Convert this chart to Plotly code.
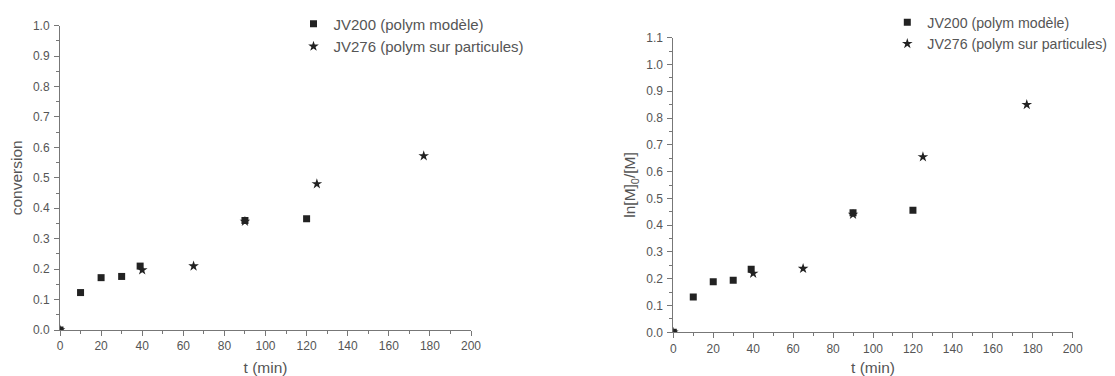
import plotly.graph_objects as go

# data
t_jv200 = [0, 10, 20, 30, 39, 90, 120]
conv_jv200 = [0.0, 0.123, 0.172, 0.176, 0.21, 0.36, 0.366]
ln_jv200 = [0.0, 0.132, 0.189, 0.194, 0.235, 0.446, 0.456]

t_jv276 = [0, 40, 65, 90, 125, 177]
conv_jv276 = [0.0, 0.197, 0.21, 0.357, 0.48, 0.572]
ln_jv276 = [0.0, 0.22, 0.238, 0.44, 0.655, 0.85]

name200 = "JV200 (polym modèle)"
name276 = "JV276 (polym sur particules)"

FONT = "Arial, Liberation Sans, sans-serif"
TXT = "#555555"
AX = "#777777"
MK = "#222222"

fig = go.Figure()
# stars drawn first so the squares sit on top
fig.add_trace(go.Scatter(x=t_jv276, y=conv_jv276, mode="markers", name=name276,
                         marker=dict(symbol="star", size=8, color=MK),
                         xaxis="x", yaxis="y", legend="legend", legendrank=2))
fig.add_trace(go.Scatter(x=t_jv200, y=conv_jv200, mode="markers", name=name200,
                         marker=dict(symbol="square", size=7, color=MK),
                         xaxis="x", yaxis="y", legend="legend", legendrank=1))
fig.add_trace(go.Scatter(x=t_jv276, y=ln_jv276, mode="markers", name=name276,
                         marker=dict(symbol="star", size=8, color=MK),
                         xaxis="x2", yaxis="y2", legend="legend2", legendrank=2))
fig.add_trace(go.Scatter(x=t_jv200, y=ln_jv200, mode="markers", name=name200,
                         marker=dict(symbol="square", size=7, color=MK),
                         xaxis="x2", yaxis="y2", legend="legend2", legendrank=1))

# the page body has an 8px margin, so the figure is 8px smaller on each axis
OFF = 8
W, H = 1115 - OFF, 376 - OFF

def xd(a, b):
    return [(a - OFF) / W, (b - OFF) / W]

def yd(bottom, top):
    return [(H - (bottom - OFF)) / H, (H - (top - OFF)) / H]

common_ax = dict(showline=True, linecolor=AX, linewidth=1, ticks="outside",
                 ticklen=5, tickcolor=AX, showgrid=False, zeroline=False,
                 tickfont=dict(family=FONT, size=12, color=TXT),
                 mirror=False, automargin=False)
TF = dict(family=FONT, size=15.5, color=TXT)

fig.update_layout(
    width=W, height=H,
    margin=dict(l=0, r=0, t=0, b=0, autoexpand=False),
    paper_bgcolor="white", plot_bgcolor="white",
    font=dict(family=FONT, color=TXT),
    xaxis=dict(domain=xd(60, 471), range=[0, 200], dtick=20, anchor="y",
               minor=dict(dtick=10, ticks="outside", ticklen=3, tickcolor=AX),
               title=dict(text="t (min)", font=TF, standoff=10),
               **common_ax),
    yaxis=dict(domain=yd(330, 25.7), range=[0, 1.0], dtick=0.1, tickformat=".1f", anchor="x",
               minor=dict(dtick=0.05, ticks="outside", ticklen=3, tickcolor=AX),
               title=dict(text="conversion", font=TF, standoff=9),
               ticklabelstandoff=2,
               **common_ax),
    xaxis2=dict(domain=xd(673.3, 1072.7), range=[0, 200], dtick=20, anchor="y2",
                minor=dict(dtick=10, ticks="outside", ticklen=3, tickcolor=AX),
                title=dict(text="t (min)", font=TF, standoff=8),
                **common_ax),
    yaxis2=dict(domain=yd(332.3, 37.7), range=[0, 1.1], dtick=0.1, tickformat=".1f", anchor="x2",
                minor=dict(dtick=0.05, ticks="outside", ticklen=3, tickcolor=AX),
                title=dict(text="ln[M]<sub>0</sub>/[M]", font=TF, standoff=6),
                ticklabelstandoff=2,
                **common_ax),
    legend=dict(x=(334 - 48.5) / W, y=1 + 0.5 / H, xanchor="left", yanchor="top",
                bgcolor="rgba(0,0,0,0)", borderwidth=0,
                font=dict(family=FONT, size=15, color=TXT), tracegroupgap=0),
    legend2=dict(x=(929.3 - 50) / W, y=1 + 1.5 / H, xanchor="left", yanchor="top",
                 bgcolor="rgba(0,0,0,0)", borderwidth=0,
                 font=dict(family=FONT, size=14.2, color=TXT), tracegroupgap=0),
    showlegend=True,
)

fig.write_html("out.html")
